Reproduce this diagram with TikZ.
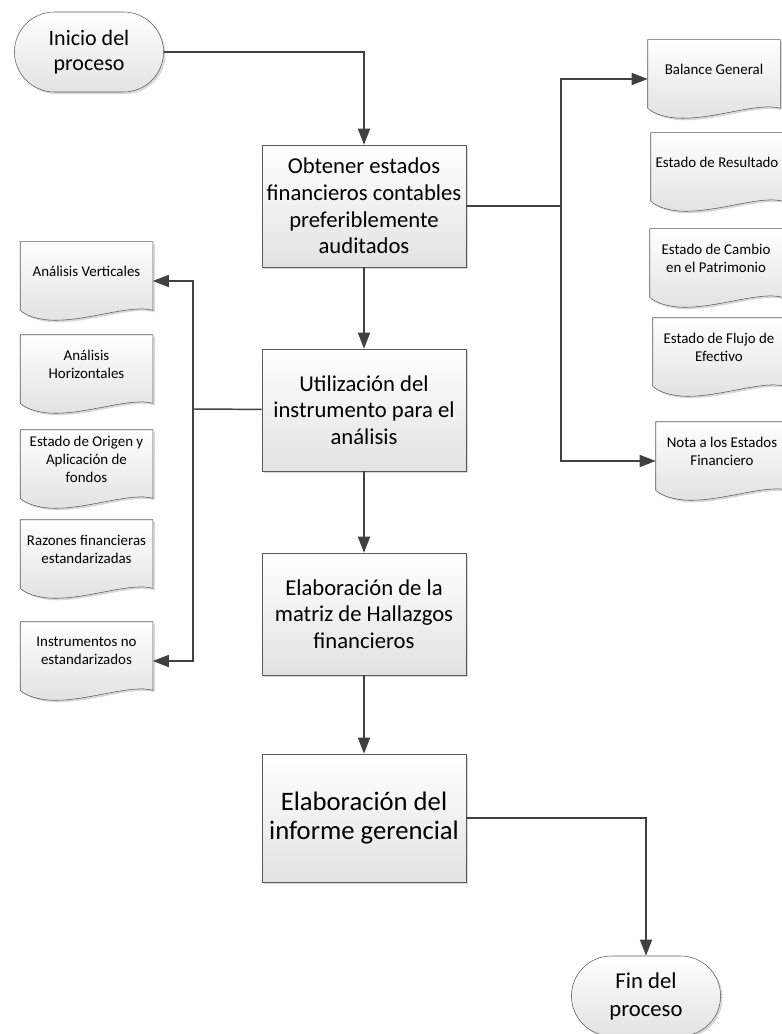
\documentclass[tikz,border=0pt]{standalone}
\usepackage{fontspec}
\setmainfont{Carlito}
\usetikzlibrary{shapes.misc,shadows,arrows.meta,backgrounds}
\definecolor{lineGray}{HTML}{404040}
\definecolor{frameGray}{HTML}{5A5A5A}
\definecolor{fillGray}{HTML}{E2E2E2}
\tikzstyle{boxShadow} = [drop shadow={shadow xshift=1.5pt,shadow yshift=-1.5pt,fill=black!30,opacity=0.5}]
\tikzstyle{startstop} = [rounded rectangle, minimum width=118.5pt, minimum height=60pt, align=center,
draw=frameGray, top color=white, bottom color=fillGray, boxShadow, font=\fontsize{16.5}{19}\selectfont]
\tikzstyle{process} = [rectangle, minimum width=153pt, minimum height=91.5pt, align=center,
draw=frameGray, top color=white, bottom color=fillGray, boxShadow, font=\fontsize{17}{20}\selectfont]
\tikzstyle{doc} = [rectangle, minimum width=99pt, minimum height=58.5pt, inner sep=2pt, text depth=15pt,
align=center, font=\fontsize{11.2}{13.5}\selectfont]
\tikzstyle{docFrame} = [draw=frameGray, top color=white, bottom color=fillGray, boxShadow]
\tikzstyle{flowLine} = [line width=1.1pt, draw=lineGray]
\tikzstyle{flowArrow} = [flowLine, -{Triangle[length=12pt,width=9pt]}]

\begin{document}
\begin{tikzpicture}[x=0.75pt, y=0.75pt, node distance=153pt]
		\useasboundingbox (0,0) rectangle (781,-1034);
		%main column
		\node[startstop] (inicio) at (89,-52) {Inicio del\\proceso};
		\node[process] (obtener) at (364,-206) {Obtener estados\\financieros contables\\preferiblemente\\auditados};
		\node[process, below of=obtener] (utilizar) {Utilización del\\instrumento para el\\análisis};
		\node[process, below of=utilizar] (matriz) {Elaboración de la\\matriz de Hallazgos\\financieros};
		\node[process, below of=matriz, minimum height=96pt, font=\fontsize{20}{22}\selectfont] (informe) {Elaboración del\\informe gerencial};
		\node[startstop, font=\fontsize{17}{21}\selectfont] (fin) at (646,-996) {Fin del\\proceso};
		
		%statements
		\node[doc] (balance) at (714,-79) {Balance General};
		\node[doc] (resultado) at (717,-172) {Estado de Resultado};
		\node[doc] (cambio) at (716,-268) {Estado de Cambio\\en el Patrimonio};
		\node[doc] (flujo) at (719,-357) {Estado de Flujo de\\Efectivo};
		\node[doc] (nota) at (722,-461) {Nota a los Estados\\Financiero};
		
		%instruments
		\node[doc] (vertical) at (86.5,-281) {Análisis Verticales};
		\node[doc] (horizontal) at (86.5,-374) {Análisis\\Horizontales};
		\node[doc] (origen) at (86.5,-469) {Estado de Origen y\\Aplicación de\\fondos};
		\node[doc] (razones) at (86.5,-559) {Razones financieras\\estandarizadas};
		\node[doc] (noestandar) at (86.5,-661) {Instrumentos no\\estandarizados};
		
		%document outlines
		\begin{scope}[on background layer]
		\foreach \d in {balance,resultado,cambio,flujo,nota,vertical,horizontal,origen,razones,noestandar}
			\draw[docFrame] (\d.north west) -- (\d.north east) -- ([yshift=7.5pt]\d.south east)
				.. controls ([shift={(-16.5pt,12pt)}]\d.south east) and ([xshift=52.5pt]\d.south west) .. ([xshift=26.25pt]\d.south west)
				.. controls ([xshift=13.5pt]\d.south west) and ([shift={(3.75pt,3.75pt)}]\d.south west) .. ([yshift=7.5pt]\d.south west) -- cycle;
		\end{scope}
		
		%split points
		\coordinate (derecha) at (561,-206);
		\coordinate (izquierda) at (193,-409);
		
		%arrows
		\draw[flowArrow] (inicio) -| (obtener);
		\draw[flowArrow] (obtener) -- (utilizar);
		\draw[flowArrow] (utilizar) -- (matriz);
		\draw[flowArrow] (matriz) -- (informe);
		\draw[flowArrow] (informe) -| (fin);
		\draw[flowLine] (obtener) -- (derecha);
		\draw[flowArrow] (derecha) |- (balance);
		\draw[flowArrow] (derecha) |- (nota);
		\draw[flowLine] (utilizar) -- (izquierda);
		\draw[flowArrow] (izquierda) |- (vertical);
		\draw[flowArrow] (izquierda) |- (noestandar);
	\end{tikzpicture}
\end{document}
